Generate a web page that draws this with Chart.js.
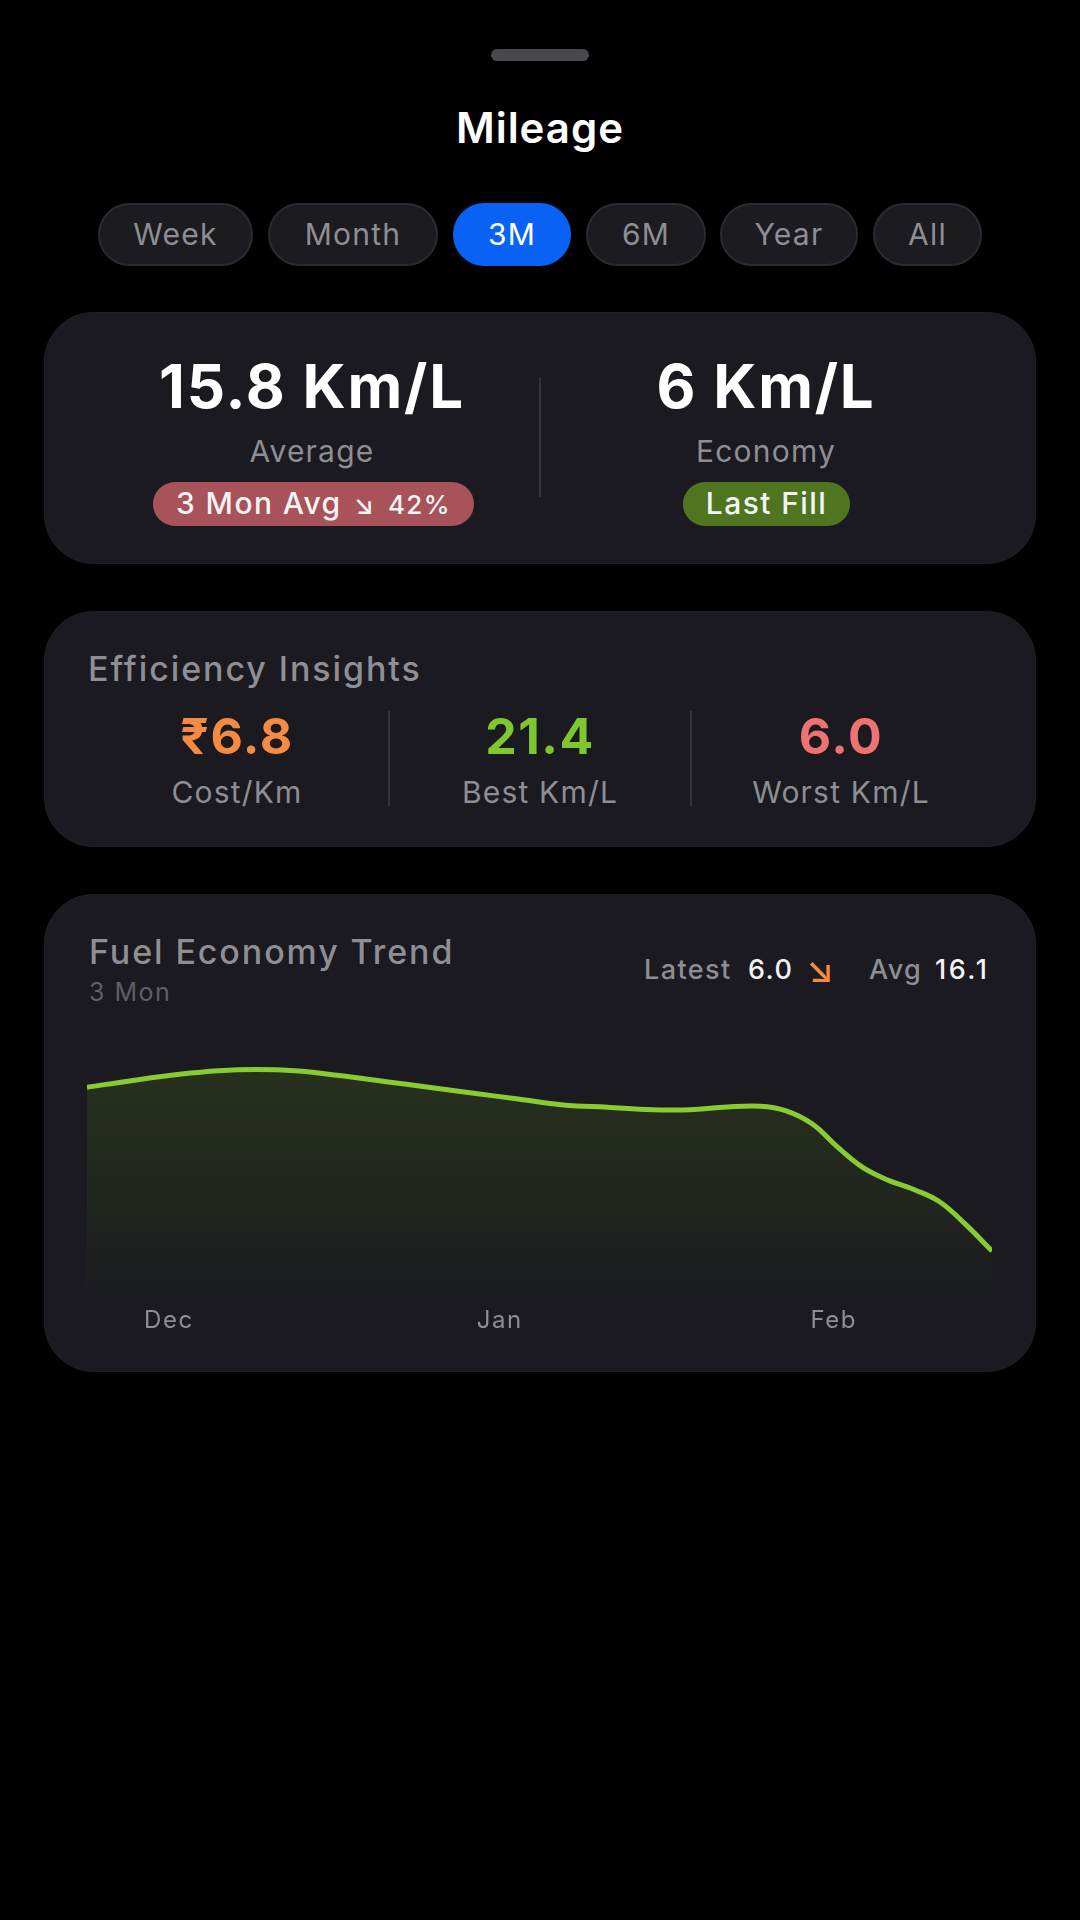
<!DOCTYPE html>
<html>
<head>
<meta charset="utf-8">
<title>Mileage</title>
<script src="https://cdn.jsdelivr.net/npm/chart.js@4"></script>
<style>
  html, body { margin: 0; padding: 0; background: #000; }
  body { width: 1080px; height: 1920px; position: relative; overflow: hidden; font-family: Inter, "Noto Sans", sans-serif; }
  .abs { position: absolute; white-space: nowrap; }
  .c { position: absolute; white-space: nowrap; text-align: center; transform: translate(-50%, -50%); }
  .l { position: absolute; white-space: nowrap; transform: translateY(-50%); }
  .handle { left: 491px; top: 49px; width: 98px; height: 12px; border-radius: 6px; background: #48484c; }
  .title { font-size: 42px; font-weight: 600; color: #fff; letter-spacing: 1px; }
  .pill { position: absolute; top: 203px; height: 63px; box-sizing: border-box; border-radius: 32px; background: #1b1b20; border: 2px solid #2a2a30;
    color: #8e8e93; font-size: 30px; font-weight: 400; letter-spacing: 1.2px; line-height: 59px; text-align: center; }
  .pill.on { background: #0a62f5; border-color: #0a62f5; color: #fff; }
  .card { position: absolute; left: 44px; width: 992px; background: #1a1a20; border-radius: 50px; box-shadow: inset 0 0 0 1px #1e1e25; }
  .big { font-size: 60px; font-weight: 700; color: #fff; letter-spacing: 1.8px; }
  .sub { font-size: 30px; font-weight: 400; color: #8e8e93; letter-spacing: 1.2px; }
  .badge { position: absolute; height: 44px; border-radius: 22px; color: #f4f4f4; font-size: 30px; font-weight: 500; letter-spacing: 1.4px; line-height: 42px; text-align: center; }
  .div { position: absolute; width: 2px; background: #34343a; }
  .head { font-size: 34px; font-weight: 500; color: #8e8e93; letter-spacing: 1.9px; }
  .val { font-size: 50px; font-weight: 700; letter-spacing: 1.5px; }
  .legend { font-size: 27px; font-weight: 500; letter-spacing: 1.4px; }
  canvas { position: absolute; left: 44px; top: 1030px; }
</style>
</head>
<body>
<div class="abs handle"></div>
<div class="c title" style="left:540px;top:127px">Mileage</div>

<div class="pill" style="left:98px;width:155px">Week</div>
<div class="pill" style="left:268px;width:170px">Month</div>
<div class="pill on" style="left:453px;width:118px">3M</div>
<div class="pill" style="left:586px;width:120px">6M</div>
<div class="pill" style="left:720px;width:138px">Year</div>
<div class="pill" style="left:873px;width:109px">All</div>

<div class="card" style="top:312px;height:252px"></div>
<div class="c big" style="left:312px;top:386px">15.8 Km/L</div>
<div class="c big" style="left:766px;top:386px">6 Km/L</div>
<div class="c sub" style="left:312px;top:451px">Average</div>
<div class="c sub" style="left:766px;top:451px">Economy</div>
<div class="badge" style="left:153px;top:482px;width:321px;background:#a8525a">3 Mon Avg <span style="font-size:26px;margin:0 3px">↘</span> <span style="font-size:26px">42%</span></div>
<div class="badge" style="left:683px;top:482px;width:167px;background:#4f7521">Last Fill</div>
<div class="div" style="left:539px;top:378px;height:119px"></div>

<div class="card" style="top:611px;height:236px"></div>
<div class="l head" style="left:88px;top:668px">Efficiency Insights</div>
<div class="c val" style="left:237px;top:736px;color:#f58a42">₹6.8</div>
<div class="c val" style="left:540px;top:736px;color:#7ec82e">21.4</div>
<div class="c val" style="left:841px;top:736px;color:#ee7272">6.0</div>
<div class="c sub" style="left:237px;top:792px">Cost/Km</div>
<div class="c sub" style="left:540px;top:792px">Best Km/L</div>
<div class="c sub" style="left:841px;top:792px">Worst Km/L</div>
<div class="div" style="left:388px;top:711px;height:95px"></div>
<div class="div" style="left:690px;top:711px;height:95px"></div>

<div class="card" style="top:894px;height:478px"></div>
<div class="l head" style="left:89px;top:951px">Fuel Economy Trend</div>
<div class="l" style="left:89px;top:992px;font-size:25px;letter-spacing:1.5px;color:#5f5f65">3 Mon</div>
<div class="l legend" style="left:644px;top:969px;color:#8e8e93">Latest</div>
<div class="l legend" style="left:748px;top:969px;color:#f2f2f2">6.0</div>
<div class="l legend" style="left:806px;top:969px;color:#f58a42;font-size:36px">↘</div>
<div class="l legend" style="left:869px;top:969px;color:#8e8e93">Avg</div>
<div class="l legend" style="left:935px;top:969px;color:#f2f2f2;letter-spacing:2.5px">16.1</div>

<canvas id="trend" width="992" height="310"></canvas>

<script>
// fuel economy readings, x is days from the left edge of the 3 month window
const days = [0, 4.4, 8.6, 12.2, 15.7, 19.3, 23.4, 27.6, 31.7, 35.9, 40, 44.2, 48.3, 52.5, 56, 59, 62.5, 64.9, 67.3, 69.7, 72, 74.4, 76.8, 79.1, 81.5, 84];
const kmPerLitre = [19.9, 20.5, 21.0, 21.3, 21.4, 21.3, 20.9, 20.4, 19.9, 19.4, 18.9, 18.4, 18.2, 18.0, 18.0, 18.2, 18.3, 17.9, 16.8, 14.8, 13.1, 12.0, 11.2, 10.2, 8.3, 6.0];
const monthNames = ["Dec", "Jan", "Feb"];
const monthDays = [7.6, 38.3, 69.3];

const ctx = document.getElementById("trend").getContext("2d");

new Chart(ctx, {
  type: "line",
  data: {
    datasets: [
      {
        data: days.map((d, i) => ({ x: d, y: kmPerLitre[i] })),
        borderColor: "#86cc32",
        borderWidth: 5,
        tension: 0.4,
        pointRadius: 0,
        fill: "start",
        backgroundColor: (c) => {
          const area = c.chart.chartArea;
          if (!area) return "transparent";
          const g = c.chart.ctx.createLinearGradient(0, area.top, 0, area.bottom);
          g.addColorStop(0, "rgba(126,190,20,0.16)");
          g.addColorStop(1, "rgba(126,190,20,0.01)");
          return g;
        },
      },
    ],
  },
  options: {
    responsive: false,
    animation: false,
    layout: { padding: { left: 43, right: 44, top: 9, bottom: 0 } },
    plugins: { legend: { display: false }, tooltip: { enabled: false } },
    scales: {
      x: {
        type: "linear",
        min: 0,
        max: 84,
        grid: { display: false, drawTicks: false },
        border: { display: false },
        afterBuildTicks: (axis) => {
          axis.ticks = monthDays.map((d) => ({ value: d }));
        },
        afterFit: (axis) => {
          axis.height = 36;
        },
        ticks: {
          autoSkip: false,
          maxRotation: 0,
          padding: 2,
          color: "#8e8e93",
          font: { family: "Inter", size: 24 },
          callback: (v) => monthNames[monthDays.indexOf(v)],
        },
      },
      y: {
        display: false,
        min: 1.5,
        max: 24,
      },
    },
  },
  plugins: [
    {
      id: "tickSpacing",
      beforeDraw: (chart) => {
        chart.ctx.letterSpacing = "1.5px";
      },
    },
  ],
});
</script>
</body>
</html>
